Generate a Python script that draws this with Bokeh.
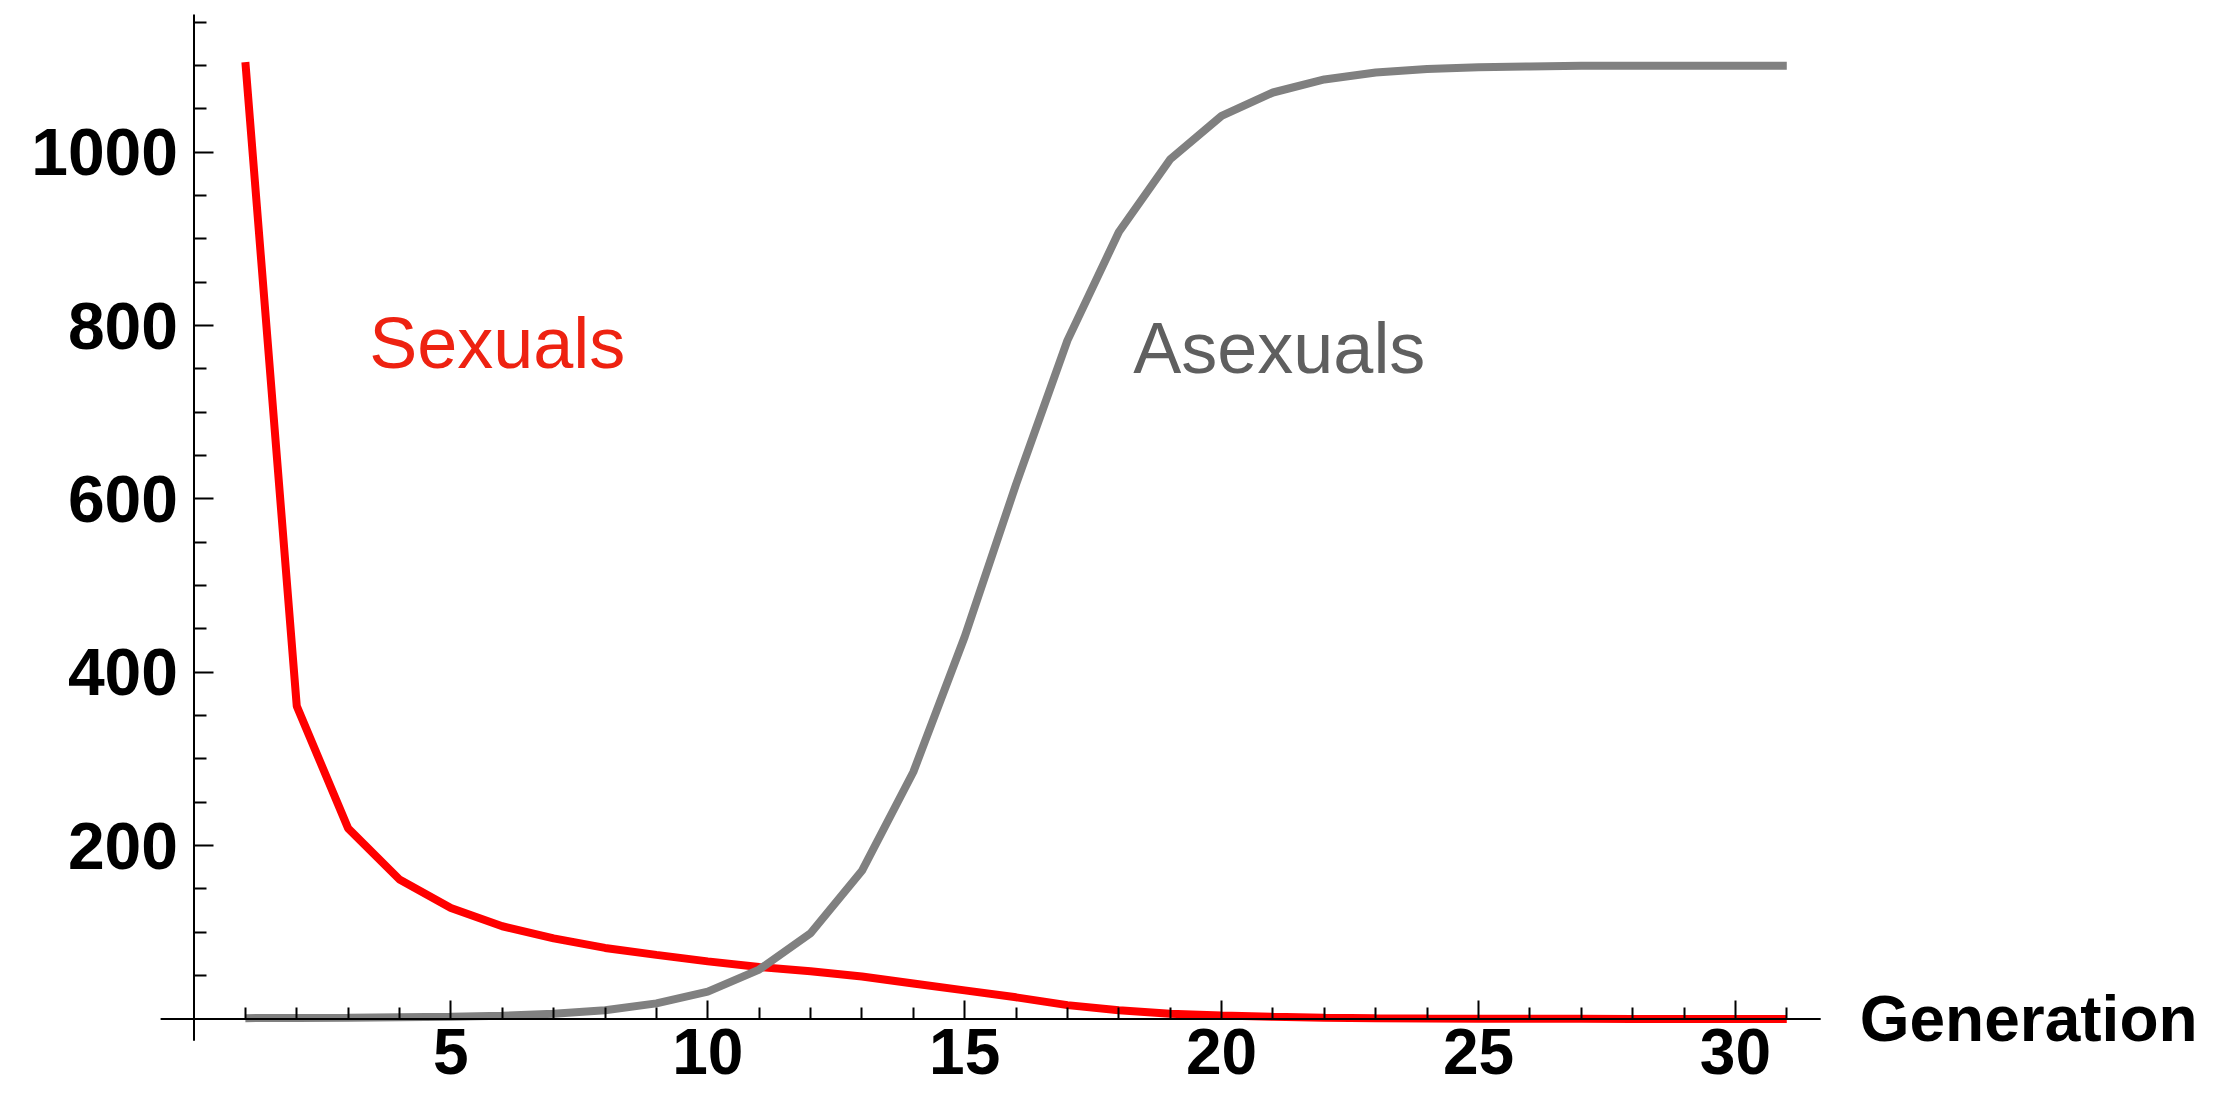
from bokeh.plotting import figure
from bokeh.models import Label, Range1d, FixedTicker
from bokeh.embed import file_html
from bokeh.resources import INLINE

# ---- data ----
generation = list(range(1, 32))
sexuals = [1104, 361, 220, 161, 128, 107, 93, 82, 74, 66.5,
           60, 55, 49, 41, 33, 25, 16, 10, 6, 4,
           2.5, 1.5, 1, 0.6, 0.4, 0.3, 0.2, 0.1, 0.1, 0.05, 0]
asexuals = [1, 1.2, 1.5, 2, 2.5, 3.7, 6, 10, 18, 31.5,
            57, 99, 171, 285, 441, 617, 783, 908, 992, 1042,
            1069, 1084, 1092, 1096, 1098, 1099, 1100, 1100, 1100, 1100, 1100]
x_major_ticks = [5, 10, 15, 20, 25, 30]
x_minor_ticks = [1, 2, 3, 4, 6, 7, 8, 9, 11, 12, 13, 14, 16, 17, 18, 19,
                 21, 22, 23, 24, 26, 27, 28, 29, 31]
y_major_ticks = [200, 400, 600, 800, 1000]
y_minor_ticks = [50, 100, 150, 250, 300, 350, 450, 500, 550, 650, 700, 750,
                 850, 900, 950, 1050, 1100, 1150]
x_axis_extent = [-0.65, 31.66]
y_axis_extent = [-25, 1159]
x_axis_title = "Generation"
series_names = ["Sexuals", "Asexuals"]

FONT = "Liberation Sans"

W, H = 2221, 1100
# pixel scale: 51.38 px per generation, 0.8667 px per unit; origin at (193.5, 1018.5)
x0 = -193.5 / 51.38
x1 = (W - 193.5) / 51.38
y1 = 1018.5 / 0.8667
y0 = -(H - 1018.5) / 0.8667

p = figure(width=W, height=H, output_backend="svg", toolbar_location=None,
           title=None,
           x_range=Range1d(x0, x1), y_range=Range1d(y0, y1),
           min_border_left=0, min_border_right=0,
           min_border_top=0, min_border_bottom=0)
p.outline_line_color = None
p.xgrid.visible = False
p.ygrid.visible = False
p.background_fill_color = "white"
p.border_fill_color = "white"

p.line(generation, sexuals, line_color="#ff0000", line_width=8)
p.line(generation, asexuals, line_color="#808080", line_width=8)

# axis lines crossing at the origin
p.segment(x0=[x_axis_extent[0], 0], y0=[0, y_axis_extent[0]],
          x1=[x_axis_extent[1], 0], y1=[0, y_axis_extent[1]],
          line_color="black", line_width=2, level="guide")

for ax in (p.xaxis[0], p.yaxis[0]):
    ax.fixed_location = 0
    ax.axis_line_color = None
    ax.major_tick_line_color = "black"
    ax.major_tick_line_width = 2
    ax.minor_tick_line_color = "black"
    ax.minor_tick_line_width = 2
    ax.major_tick_in = 19
    ax.major_tick_out = 0
    ax.minor_tick_in = 12
    ax.minor_tick_out = 0
    ax.major_label_text_font = FONT
    ax.major_label_text_font_style = "bold"
    ax.major_label_text_color = "black"

p.xaxis[0].major_label_text_font_size = "64px"
p.yaxis[0].major_label_text_font_size = "66px"
p.xaxis[0].ticker = FixedTicker(ticks=x_major_ticks, minor_ticks=x_minor_ticks)
p.yaxis[0].ticker = FixedTicker(ticks=y_major_ticks, minor_ticks=y_minor_ticks)
p.xaxis[0].major_label_standoff = 10
p.yaxis[0].major_label_standoff = 16

p.add_layout(Label(x=3.41, y=780, text=series_names[0], text_font=FONT,
                   text_font_size="72px", text_color="#ee2211",
                   text_baseline="alphabetic", text_align="left"))
p.add_layout(Label(x=18.28, y=774, text=series_names[1], text_font=FONT,
                   text_font_size="72px", text_color="#5f5f5f",
                   text_baseline="alphabetic", text_align="left"))
p.add_layout(Label(x=32.42, y=0, text=x_axis_title, text_font=FONT,
                   text_font_size="64px", text_font_style="bold",
                   text_color="black", text_baseline="middle", text_align="left"))

open("out.html", "w").write(file_html(p, INLINE))
